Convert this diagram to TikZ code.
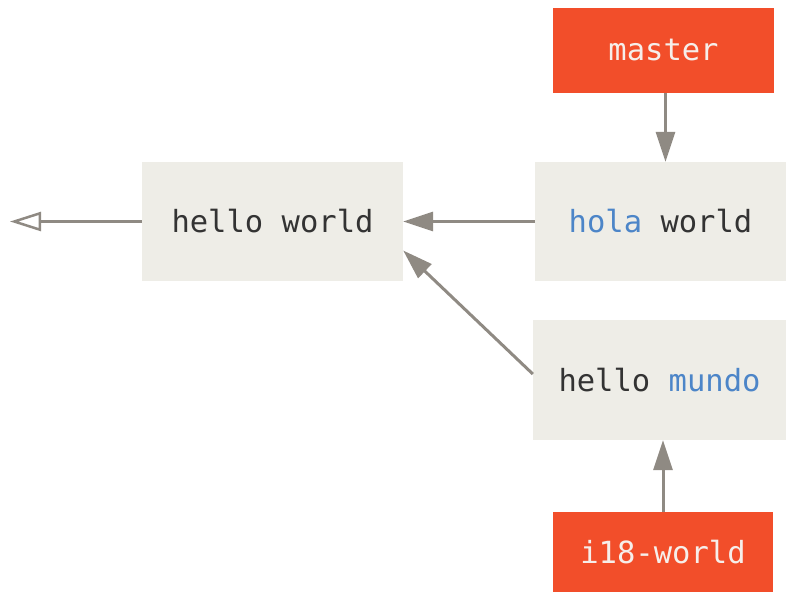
\documentclass[tikz,border=0pt]{standalone}
\usepackage{fontspec}
\setmonofont{DejaVu Sans Mono}
\usetikzlibrary{arrows.meta}
\definecolor{boxfill}{HTML}{EEEDE7}
\definecolor{branch}{HTML}{F24E2A}
\definecolor{arrowgray}{HTML}{8F8A83}
\definecolor{txt}{HTML}{333333}
\definecolor{blu}{HTML}{4C85C8}
\definecolor{wtxt}{HTML}{F6EEEA}
\tikzset{
  commit/.style={rectangle, fill=boxfill, draw=none, inner sep=0pt, text=txt,
    font=\ttfamily\fontsize{30.5}{34}\selectfont},
  branchbox/.style={rectangle, fill=branch, draw=none, inner sep=0pt, text=wtxt,
    font=\ttfamily\fontsize{30.5}{34}\selectfont},
  conn/.style={draw=arrowgray, line width=3pt, -{Triangle[length=30pt,width=19pt]}},
  openconn/.style={draw=arrowgray, line width=3pt, -{Triangle[open,length=31pt,width=19pt,line width=2.5pt]}}
}
\begin{document}
\begin{tikzpicture}[x=1pt,y=-1pt]
\useasboundingbox (0,0) rectangle (786,592);
\node[commit, minimum width=261pt, minimum height=119pt] (hello) at (272.5,221.5) {hello world};
\node[commit, minimum width=251pt, minimum height=119pt] (hola) at (660.5,221.5) {\textcolor{blu}{hola} world};
\node[commit, minimum width=253pt, minimum height=120pt] (mundo) at (659.5,380) {hello \textcolor{blu}{mundo}};
\node[branchbox, minimum width=221pt, minimum height=85pt] (master) at (663.5,50.5) {master};
\node[branchbox, minimum width=220pt, minimum height=80pt] (i18) at (663,552) {i18-world};
\coordinate (tail) at (10,221.5);
\draw[conn] ([xshift=2pt]master.south) -- ([xshift=2pt]master.south |- hola.north);
\draw[conn] (i18.north) -- (i18.north |- mundo.south);
\draw[conn] (hola.west) -- (hello.east);
\draw[conn] ([yshift=6pt]mundo.west) -- ([yshift=-29pt]hello.east);
\draw[openconn] (hello.west) -- (tail);
\end{tikzpicture}
\end{document}
